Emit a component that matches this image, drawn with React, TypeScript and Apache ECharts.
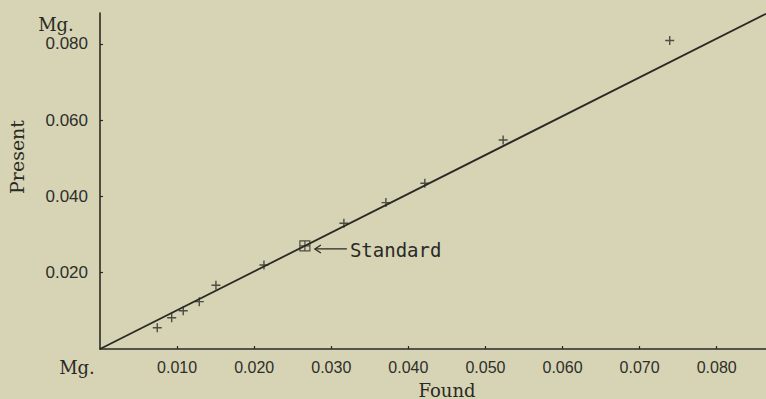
import React, { useEffect, useRef } from "react";
import * as echarts from "echarts";

// Found (x) vs Present (y), Mg.
const foundValues = [0.00743, 0.0093, 0.0108, 0.01288, 0.01504, 0.02127, 0.03164, 0.03709, 0.04214, 0.0523, 0.07391];
const presentValues = [0.00559, 0.00821, 0.01002, 0.01241, 0.01671, 0.02204, 0.03297, 0.03838, 0.04347, 0.0548, 0.08088];
const standardPoint = [0.02658, 0.02702];
const fitLine = [
  [0, 0],
  [0.0864, 0.0879],
];
const xMax = 0.0864;
const yMax = 0.0881;
const xInterval = 0.01;
const yInterval = 0.02;

const INK = "#2a2a24";
const BG = "#d6d4b5";

export default function App() {
  const ref = useRef<HTMLDivElement>(null);
  useEffect(() => {
    if (!ref.current) return;
    const chart = echarts.init(ref.current, undefined, { renderer: "svg" });
    const plus = "path://M0,5L10,5M5,0L5,10";
    const boxPlus = "path://M0,0L10,0L10,10L0,10Z M5,0L5,10 M0,5L10,5";
    const fmt = (v: number) => {
      if (v <= 0) return "";
      const r = Math.round(v * 1000) / 1000;
      if (Math.abs(r - v) > 1e-6) return "";
      return r.toFixed(3);
    };
    chart.setOption({
      animation: false,
      backgroundColor: BG,
      grid: { left: 100, top: 13, right: 0, bottom: 50 },
      xAxis: {
        type: "value",
        min: 0,
        max: xMax,
        interval: xInterval,
        splitLine: { show: false },
        axisLine: { show: true, onZero: false, lineStyle: { color: INK, width: 1.6 } },
        axisTick: { show: true, inside: true, length: 3, lineStyle: { color: INK, width: 1.2 } },
        axisLabel: {
          formatter: fmt,
          showMinLabel: false,
          showMaxLabel: false,
          color: "#2e2e2a",
          fontFamily: "Liberation Sans",
          fontSize: 16,
          margin: 10,
        },
      },
      yAxis: {
        type: "value",
        min: 0,
        max: yMax,
        interval: yInterval,
        splitLine: { show: false },
        axisLine: { show: true, onZero: false, lineStyle: { color: INK, width: 1.6 } },
        axisTick: { show: true, inside: true, length: 3, lineStyle: { color: INK, width: 1.2 } },
        axisLabel: {
          formatter: fmt,
          showMinLabel: false,
          showMaxLabel: false,
          color: "#2e2e2a",
          fontFamily: "Liberation Sans",
          fontSize: 17,
          margin: 12,
        },
      },
      series: [
        {
          type: "line",
          data: fitLine,
          symbol: "none",
          lineStyle: { color: INK, width: 1.8 },
          silent: true,
        },
        {
          type: "scatter",
          data: foundValues.map((x, i) => [x, presentValues[i]]),
          symbol: plus,
          symbolSize: 9,
          itemStyle: { color: "transparent", borderColor: INK, borderWidth: 1.4 },
        },
        {
          type: "scatter",
          data: [standardPoint],
          symbol: boxPlus,
          symbolSize: 10,
          itemStyle: { color: "transparent", borderColor: INK, borderWidth: 1.2 },
        },
      ],
    });
    const [px, py] = chart.convertToPixel({ gridIndex: 0 }, standardPoint) as number[];
    const ay = py + 3;
    chart.setOption({
      graphic: [
        {
          type: "polyline",
          shape: { points: [[px + 16, ay - 4], [px + 10, ay], [px + 16, ay + 4]] },
          style: { stroke: INK, lineWidth: 1.3, fill: "none" },
        },
        {
          type: "line",
          shape: { x1: px + 10, y1: ay, x2: px + 42, y2: ay },
          style: { stroke: INK, lineWidth: 1.3 },
        },
        {
          type: "text",
          x: px + 45,
          y: ay + 1,
          style: {
            text: "Standard",
            fill: INK,
            font: "19px 'DejaVu Sans Mono'",
            verticalAlign: "middle",
            align: "left",
          },
        },
        {
          type: "text",
          x: 17,
          y: 157,
          rotation: Math.PI / 2,
          style: {
            text: "Present",
            fill: INK,
            font: "19px 'DejaVu Serif'",
            align: "center",
            verticalAlign: "middle",
          },
        },
        {
          type: "text",
          x: 447,
          y: 390,
          style: {
            text: "Found",
            fill: INK,
            font: "18px 'DejaVu Serif'",
            align: "center",
            verticalAlign: "middle",
          },
        },
        {
          type: "text",
          x: 77,
          y: 367,
          style: {
            text: "Mg.",
            fill: INK,
            font: "18px 'DejaVu Serif'",
            align: "center",
            verticalAlign: "middle",
          },
        },
        {
          type: "text",
          x: 56,
          y: 24,
          style: {
            text: "Mg.",
            fill: INK,
            font: "18px 'DejaVu Serif'",
            align: "center",
            verticalAlign: "middle",
          },
        },
      ],
    });
    return () => chart.dispose();
  }, []);
  return (
    <div
      ref={ref}
      style={{ position: "absolute", left: 0, top: 0, width: 766, height: 399, background: BG }}
    />
  );
}
